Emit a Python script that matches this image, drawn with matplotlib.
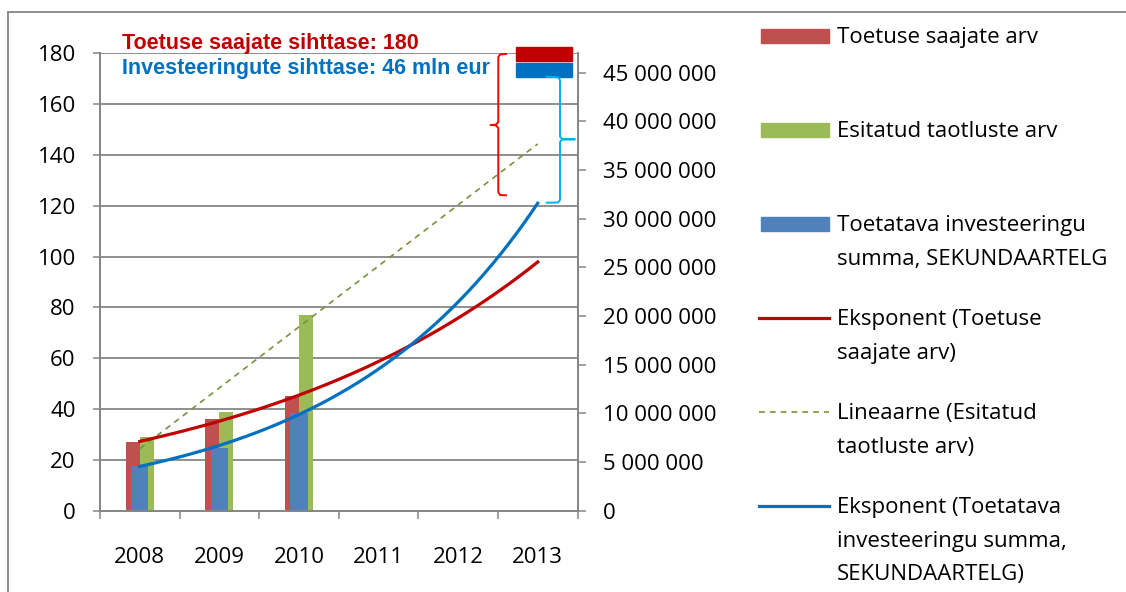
import numpy as np
import matplotlib
matplotlib.use("Agg")
import matplotlib.pyplot as plt
from matplotlib.patches import Rectangle
from matplotlib.lines import Line2D
from matplotlib.ticker import FuncFormatter, FixedLocator

plt.rcParams['font.family'] = ['Open Sans', 'DejaVu Sans']

# data
years = ["2008", "2009", "2010", "2011", "2012", "2013"]
toetuse_saajad = [27, 36, 45]                       # left axis
esitatud_taotlused = [29, 39, 77]                   # left axis
investeering = [4_630_000, 6_480_000, 10_050_000]   # right axis (sekundaartelg)

labels = ["Toetuse saajate arv", "Esitatud taotluste arv",
          "Toetatava investeeringu\nsumma, SEKUNDAARTELG",
          "Eksponent (Toetuse\nsaajate arv)",
          "Lineaarne (Esitatud\ntaotluste arv)",
          "Eksponent (Toetatava\ninvesteeringu summa,\nSEKUNDAARTELG)"]

c_red_bar, c_green_bar, c_blue_bar = "#C0504D", "#9BBB59", "#4F81BD"
c_red_line, c_blue_line, c_green_line = "#C00000", "#0070C0", "#77933C"
grey = "#868686"

W, H = 1126, 592
fig = plt.figure(figsize=(W / 100, H / 100), dpi=100)


def px(x, y):
    return x / W, 1 - y / H


ax1 = fig.add_axes([100 / W, (H - 510.7) / H, (577.5 - 100) / W, (510.7 - 53.3) / H])
ax2 = ax1.twinx()

x = np.arange(len(toetuse_saajad))
bw = 0.175
ax1.bar(x - bw / 2, toetuse_saajad, bw, color=c_red_bar, zorder=2)
ax1.bar(x + bw / 2, esitatud_taotlused, bw, color=c_green_bar, zorder=2)
ax2.bar(x, investeering, 0.218, color=c_blue_bar, zorder=2)

# trendlines (fitted on the data, forecast to 2013)
xt = np.linspace(0, len(years) - 1, 300)
k, b = np.polyfit(x, np.log(toetuse_saajad), 1)
ax2.plot(xt, np.exp(b + k * xt) * 47e6 / 180, color=c_red_line, lw=2.3, zorder=5)
k, b = np.polyfit(x, esitatud_taotlused, 1)
ax2.plot(xt, (b + k * xt) * 47e6 / 180, color=c_green_line, lw=1.2,
         dashes=(3.5, 3), zorder=4)
k, b = np.polyfit(x, np.log(investeering), 1)
ax2.plot(xt, np.exp(b + k * xt), color=c_blue_line, lw=2.3, zorder=5)

ax1.set_xlim(-0.5, len(years) - 0.5)
ax1.set_ylim(0, 180)
ax2.set_ylim(0, 47e6)
ax1.set_yticks(range(0, 181, 20))
ax2.set_yticks(range(0, 45_000_001, 5_000_000))
ax2.yaxis.set_major_formatter(FuncFormatter(lambda v, p: f"{v:,.0f}".replace(",", " ")))

ax1.xaxis.set_major_locator(FixedLocator(np.arange(-0.5, len(years), 1)))
ax1.set_xticklabels([])
ax1.set_xticks(np.arange(len(years)), minor=True)
ax1.set_xticklabels(years, minor=True)
ax1.tick_params(axis="x", which="major", length=6, width=1.1, color=grey)
ax1.tick_params(axis="x", which="minor", length=0, pad=26, labelsize=16)
ax1.tick_params(axis="y", length=5, width=1.1, color=grey, pad=12.5, labelsize=16)
ax2.tick_params(axis="y", length=6, width=1.1, color=grey, pad=12, labelsize=16)

ax1.grid(axis="y", color=grey, lw=1.3, zorder=0)
ax1.set_axisbelow(True)
for a in (ax1, ax2):
    a.spines["top"].set_visible(False)
    for s in ("left", "right", "bottom"):
        a.spines[s].set_color(grey)
        a.spines[s].set_linewidth(1.3)

# outer chart border
fig.add_artist(Line2D([7.7 / W, 1], [1 - 12.3 / H] * 2, color=grey, lw=1.3))
fig.add_artist(Line2D([7.7 / W] * 2, [0, 1 - 12.3 / H], color=grey, lw=1.3))

# target annotations
fig.text(*px(121.7, 43.3), "Toetuse saajate sihttase: 180", color="#C00000",
         fontsize=15.5, fontweight="bold", family="Liberation Sans", va="center")
fig.text(*px(121.7, 68.3), "Investeeringute sihttase: 46 mln eur", color="#0070C0",
         fontsize=15.5, fontweight="bold", family="Liberation Sans", va="center")
fig.add_artist(Rectangle(px(516, 60.7), 56 / W, 13.4 / H, color="#C00000", transform=fig.transFigure))
fig.add_artist(Rectangle(px(516, 76.7), 56 / W, 13.4 / H, color="#0070C0", transform=fig.transFigure))


# braces
def brace(xs, ys, color):
    fig.add_artist(Line2D([v / W for v in xs], [1 - v / H for v in ys], color=color, lw=1.4))


brace([506, 500, 498.3, 498.3, 496, 490.5, 496, 498.3, 498.3, 500, 506],
      [54, 54.5, 57, 122, 124.6, 125, 125.4, 128, 192, 195, 195.3], "#FF0000")
brace([546.7, 558, 560, 560, 562, 575, 562, 560, 560, 558, 546.7],
      [76.7, 77.2, 80, 136.5, 139, 139.3, 139.6, 142, 200, 202.5, 202.7], "#00B0F0")

# legend on the right
row_y = [35.8 + 94 * i for i in range(6)]
for i, (lab, y) in enumerate(zip(labels, row_y)):
    if i < 3:
        col = [c_red_bar, c_green_bar, c_blue_bar][i]
        fig.add_artist(Rectangle(px(761, y + 6.8), 68 / W, 13.6 / H, color=col,
                                 transform=fig.transFigure))
    elif i == 4:
        fig.add_artist(Line2D([759 / W, 829 / W], [1 - y / H] * 2, color=c_green_line,
                              lw=1.2, dashes=(3.5, 3)))
    else:
        col = c_red_line if i == 3 else c_blue_line
        fig.add_artist(Line2D([759 / W, 829 / W], [1 - y / H] * 2, color=col, lw=2.3))
    for j, line in enumerate(lab.split("\n")):
        fig.text(*px(837, y + 33.5 * j + 7.5), line, fontsize=16, va="baseline")

fig.savefig("out.png", dpi=100)
